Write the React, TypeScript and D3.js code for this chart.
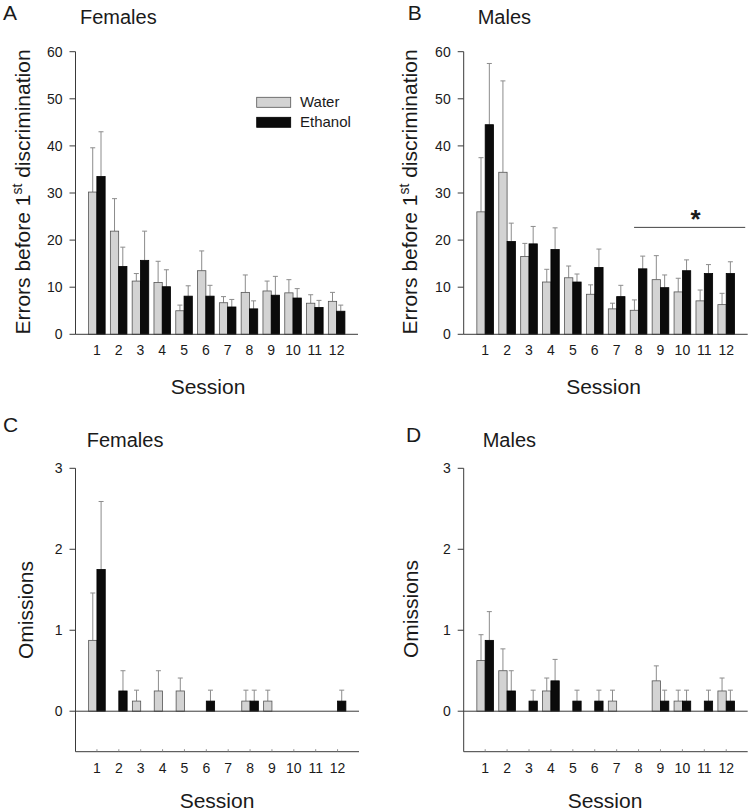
import React from 'react';
import * as d3 from 'd3';

const sessions = ['1', '2', '3', '4', '5', '6', '7', '8', '9', '10', '11', '12'];
const groups = ['Water', 'Ethanol'];

// Panel A: Females, errors before 1st discrimination
const femErrWater = [30.2, 21.9, 11.3, 11.0, 5.0, 13.5, 6.7, 8.9, 9.2, 8.8, 6.6, 7.0];
const femErrWaterSem = [9.4, 6.9, 1.6, 4.5, 1.2, 4.2, 1.3, 3.7, 2.1, 2.8, 1.8, 1.9];
const femErrEthanol = [33.5, 14.4, 15.7, 10.1, 8.1, 8.1, 5.8, 5.4, 8.3, 7.7, 5.7, 4.9];
const femErrEthanolSem = [9.5, 4.1, 6.2, 3.6, 2.2, 2.3, 1.6, 1.7, 4.0, 2.0, 1.5, 1.3];

// Panel B: Males, errors before 1st discrimination
const maleErrWater = [26.0, 34.4, 16.5, 11.1, 12.0, 8.5, 5.4, 5.1, 11.6, 9.0, 7.1, 6.3];
const maleErrWaterSem = [11.5, 19.4, 2.8, 2.7, 2.5, 2.0, 1.2, 2.2, 5.1, 2.9, 2.3, 2.4];
const maleErrEthanol = [44.5, 19.7, 19.2, 18.0, 11.1, 14.2, 8.0, 13.9, 9.9, 13.5, 12.9, 12.9];
const maleErrEthanolSem = [13.0, 3.9, 3.7, 4.6, 1.7, 3.9, 2.4, 2.7, 2.7, 2.3, 1.9, 2.5];

// Panel C: Females, omissions
const femOmWater = [0.875, 0, 0.125, 0.25, 0.25, 0, 0, 0.125, 0.125, 0, 0, 0];
const femOmWaterSem = [0.585, 0, 0.135, 0.25, 0.16, 0, 0, 0.135, 0.135, 0, 0, 0];
const femOmEthanol = [1.75, 0.25, 0, 0, 0, 0.125, 0, 0.125, 0, 0, 0, 0.125];
const femOmEthanolSem = [0.84, 0.25, 0, 0, 0, 0.135, 0, 0.135, 0, 0, 0, 0.135];

// Panel D: Males, omissions
const maleOmWater = [0.625, 0.5, 0, 0.25, 0, 0, 0.125, 0, 0.375, 0.125, 0, 0.25];
const maleOmWaterSem = [0.32, 0.27, 0, 0.16, 0, 0, 0.135, 0, 0.185, 0.135, 0, 0.16];
const maleOmEthanol = [0.875, 0.25, 0.125, 0.375, 0.125, 0.125, 0, 0, 0.125, 0.125, 0.125, 0.125];
const maleOmEthanolSem = [0.355, 0.25, 0.135, 0.265, 0.135, 0.135, 0, 0, 0.135, 0.135, 0.135, 0.135];

const errTicks = [0, 10, 20, 30, 40, 50, 60];
const omTicks = [0, 1, 2, 3];

// significance bracket in panel B (sessions 8-12)
const sigFrom = '8';
const sigTo = '12';
const sigLevel = 22.7;

const FONT = '"Liberation Sans", Arial, Helvetica, sans-serif';
const TEXT = '#1a1a1a';
const AXIS = '#3a3a3a';
const WATER_FILL = '#d3d3d3';
const ETH_FILL = '#0b0b0b';
const ERR = '#8c8c8c';

type PanelCfg = {
  letter: string;
  title: string;
  letterX: number; letterY: number;
  titleX: number; titleY: number;
  x0: number; x1: number;
  yTop: number; yBottom: number;
  domain: [number, number];
  ticks: number[];
  yLabel: 'err' | 'om';
  yLabelX: number; yLabelY: number;
  sessionX: number; sessionY: number;
  water: number[]; waterSem: number[];
  eth: number[]; ethSem: number[];
  legend?: boolean;
  sig?: boolean;
};

function Panel({ c }: { c: PanelCfg }) {
  const x = d3.scalePoint<string>().domain(sessions).range([c.x0, c.x1]).padding(0.98);
  const y = d3.scaleLinear().domain(c.domain).range([c.yBottom, c.yTop]);
  const bw = x.step() * 0.38;
  const series = [
    { name: groups[0], vals: c.water, sem: c.waterSem, fill: WATER_FILL, stroke: '#555', off: -bw },
    { name: groups[1], vals: c.eth, sem: c.ethSem, fill: ETH_FILL, stroke: '#000', off: 0 },
  ];
  const zeroY = y(0);
  const hasNeg = c.domain[0] < 0;
  return (
    <g fontFamily={FONT} fill={TEXT}>
      <text x={c.letterX} y={c.letterY} fontSize={21}>{c.letter}</text>
      <text x={c.titleX} y={c.titleY} fontSize={20}>{c.title}</text>

      {/* error bars (drawn first so bars sit above stems) */}
      {series.map((s) =>
        s.vals.map((v, i) => {
          if (!(s.sem[i] > 0)) return null;
          const cx = (x(sessions[i]) as number) + s.off + bw / 2;
          const yt = y(v + s.sem[i]);
          return (
            <g key={s.name + i} stroke={ERR} strokeWidth={1}>
              <line x1={cx} x2={cx} y1={y(v)} y2={yt} />
              <line x1={cx - 2.5} x2={cx + 2.5} y1={yt} y2={yt} />
            </g>
          );
        })
      )}
      {/* bars */}
      {series.map((s) =>
        s.vals.map((v, i) => {
          if (!(v > 0)) return null;
          const bx = (x(sessions[i]) as number) + s.off;
          return (
            <rect
              key={'b' + s.name + i}
              x={bx}
              y={y(v)}
              width={bw}
              height={zeroY - y(v)}
              fill={s.fill}
              stroke={s.stroke}
              strokeWidth={0.8}
            />
          );
        })
      )}

      {/* axes */}
      <line x1={c.x0} x2={c.x0} y1={c.yTop} y2={c.yBottom} stroke={AXIS} strokeWidth={1} />
      <line x1={c.x0} x2={c.x1} y1={c.yBottom} y2={c.yBottom} stroke={AXIS} strokeWidth={1} />
      {hasNeg && <line x1={c.x0} x2={c.x1} y1={zeroY} y2={zeroY} stroke={AXIS} strokeWidth={1} />}
      {hasNeg &&
        sessions.map((s) => (
          <line key={'xt' + s} x1={x(s)} x2={x(s)} y1={c.yBottom} y2={c.yBottom - 2.5} stroke="#777" strokeWidth={0.8} />
        ))}
      {c.ticks.map((t) => (
        <g key={'yt' + t}>
          <line x1={c.x0 - 6} x2={c.x0} y1={y(t)} y2={y(t)} stroke={AXIS} strokeWidth={1} />
          <text x={c.x0 - 13} y={y(t)} fontSize={14} textAnchor="end" dominantBaseline="central">
            {t}
          </text>
        </g>
      ))}
      {sessions.map((s) => (
        <text key={'xl' + s} x={x(s)} y={c.yBottom + 21} fontSize={14} textAnchor="middle">
          {s}
        </text>
      ))}

      <text x={c.sessionX} y={c.sessionY} fontSize={21} textAnchor="middle">Session</text>

      <g transform={`translate(${c.yLabelX},${c.yLabelY}) rotate(-90)`}>
        {c.yLabel === 'err' ? (
          <text x={0} y={0} fontSize={21} textAnchor="middle">
            Errors before 1<tspan fontSize={14} dy={-8}>st</tspan>
            <tspan dy={8}> discrimination</tspan>
          </text>
        ) : (
          <text x={0} y={0} fontSize={21} textAnchor="middle">Omissions</text>
        )}
      </g>

      {c.legend && (
        <g>
          <rect x={256.7} y={97.3} width={34} height={10} fill={WATER_FILL} stroke="#555" strokeWidth={0.8} />
          <rect x={256.7} y={117.3} width={34} height={10} fill={ETH_FILL} stroke="#000" strokeWidth={0.8} />
          <text x={300} y={106.8} fontSize={15}>{groups[0]}</text>
          <text x={300} y={127.3} fontSize={15}>{groups[1]}</text>
        </g>
      )}

      {c.sig && (
        <g>
          <line
            x1={(x(sigFrom) as number) - 4.5}
            x2={(x(sigTo) as number) + 19}
            y1={y(sigLevel)}
            y2={y(sigLevel)}
            stroke="#444"
            strokeWidth={1}
          />
          <text
            x={((x(sigFrom) as number) - 4.5 + (x(sigTo) as number) + 19) / 2 + 6}
            y={y(sigLevel) + 1}
            fontSize={26}
            fontWeight="bold"
            textAnchor="middle"
          >
            *
          </text>
        </g>
      )}
    </g>
  );
}

export default function App() {
  const panels: PanelCfg[] = [
    {
      letter: 'A', title: 'Females', letterX: 3, letterY: 20, titleX: 80, titleY: 24,
      x0: 75.5, x1: 358, yTop: 51.7, yBottom: 334.3, domain: [0, 60], ticks: errTicks,
      yLabel: 'err', yLabelX: 30, yLabelY: 192, sessionX: 208, sessionY: 394,
      water: femErrWater, waterSem: femErrWaterSem, eth: femErrEthanol, ethSem: femErrEthanolSem,
      legend: true,
    },
    {
      letter: 'B', title: 'Males', letterX: 407.7, letterY: 20, titleX: 477.7, titleY: 23.5,
      x0: 463.7, x1: 747.7, yTop: 51.7, yBottom: 334.3, domain: [0, 60], ticks: errTicks,
      yLabel: 'err', yLabelX: 417, yLabelY: 192, sessionX: 603.5, sessionY: 394,
      water: maleErrWater, waterSem: maleErrWaterSem, eth: maleErrEthanol, ethSem: maleErrEthanolSem,
      sig: true,
    },
    {
      letter: 'C', title: 'Females', letterX: 3, letterY: 431.7, titleX: 86.7, titleY: 446.7,
      x0: 75.5, x1: 359, yTop: 468.3, yBottom: 751.7, domain: [-0.5, 3], ticks: omTicks,
      yLabel: 'om', yLabelX: 33, yLabelY: 610, sessionX: 217, sessionY: 808,
      water: femOmWater, waterSem: femOmWaterSem, eth: femOmEthanol, ethSem: femOmEthanolSem,
    },
    {
      letter: 'D', title: 'Males', letterX: 406, letterY: 441.7, titleX: 482.7, titleY: 446.7,
      x0: 463.7, x1: 747.7, yTop: 468.3, yBottom: 751.7, domain: [-0.5, 3], ticks: omTicks,
      yLabel: 'om', yLabelX: 418, yLabelY: 609, sessionX: 605, sessionY: 808,
      water: maleOmWater, waterSem: maleOmWaterSem, eth: maleOmEthanol, ethSem: maleOmEthanolSem,
    },
  ];
  return (
    <svg
      width={752}
      height={811}
      viewBox="0 0 752 811"
      style={{ position: 'absolute', left: 0, top: 0, background: '#fff' }}
    >
      <rect x={0} y={0} width={752} height={811} fill="#fff" />
      {panels.map((p) => (
        <Panel key={p.letter} c={p} />
      ))}
    </svg>
  );
}
